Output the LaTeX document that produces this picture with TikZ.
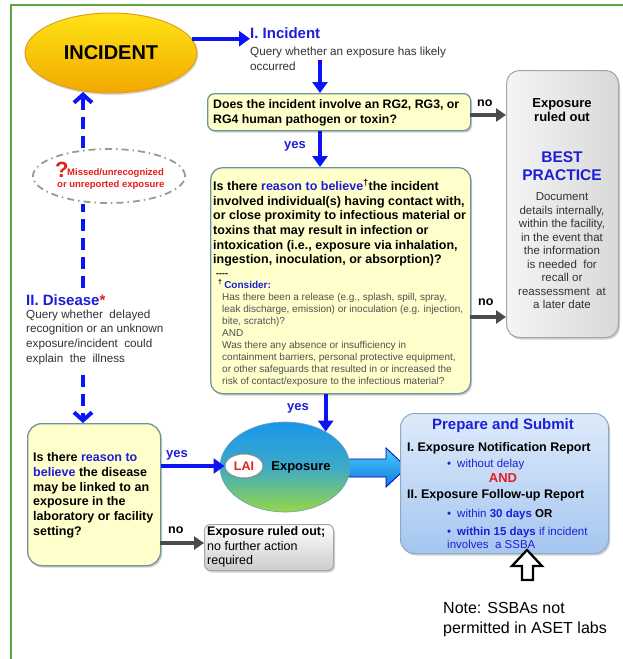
\documentclass[tikz,border=0pt]{standalone}
\usepackage{fontspec}
\setmainfont{Liberation Sans}
\usetikzlibrary{arrows.meta,shapes.geometric,shadows,calc}
\newcommand\fsz[2]{\fontsize{#1}{#2}\selectfont}

\definecolor{framegreen}{RGB}{96,165,60}
\definecolor{incTop}{RGB}{255,228,20}
\definecolor{incBot}{RGB}{242,168,0}
\definecolor{incBorder}{RGB}{220,160,30}
\definecolor{arrowblue}{RGB}{10,20,245}
\definecolor{txtblue}{RGB}{30,30,215}
\definecolor{boxyellow}{RGB}{255,255,204}
\definecolor{boxborder}{RGB}{110,150,150}
\definecolor{arrowgray}{RGB}{75,75,75}
\definecolor{grayBorder}{RGB}{165,165,165}
\definecolor{prepTop}{RGB}{222,234,250}
\definecolor{prepBot}{RGB}{165,198,240}
\definecolor{prepBorder}{RGB}{140,170,200}
\definecolor{alertred}{RGB}{230,30,30}
\definecolor{bodygray}{RGB}{50,50,50}
\definecolor{smallgray}{RGB}{80,80,80}
\definecolor{expTop}{RGB}{25,150,235}
\definecolor{expMid}{RGB}{60,170,200}
\definecolor{expBot}{RGB}{150,215,70}
\definecolor{blkTop}{RGB}{70,205,250}
\definecolor{blkBot}{RGB}{20,120,225}

\tikzset{
  flowarrow/.style={line width=4pt, draw=arrowblue, -{Triangle[length=11pt,width=15pt]}},
  noarrow/.style={line width=4pt, draw=arrowgray, -{Triangle[length=10pt,width=13pt]}},
  dashline/.style={line width=4.5pt, draw=arrowblue, dash pattern=on 12pt off 7pt},
  dasharrow/.style={dashline, -{Straight Barb[length=8pt,width=18pt,line width=4pt]}},
  boxshadow/.style={drop shadow={shadow xshift=1.5pt, shadow yshift=-2pt, opacity=0.3, fill=black!60}},
  ybox/.style={draw=boxborder, line width=1.3pt, fill=boxyellow, rectangle, inner sep=0pt, boxshadow},
  gbox/.style={draw=grayBorder, line width=1pt, rectangle, inner sep=0pt, left color=black!4, right color=black!15, boxshadow},
  txt/.style={inner sep=0pt, align=left},
  bigq/.style={txt, font=\bfseries\fsz{12.5}{14.7}},
  lbl/.style={inner sep=0pt, font=\bfseries\fsz{12.5}{14}},
}

\begin{document}
\begin{tikzpicture}[x=1pt,y=-1pt]
\useasboundingbox (0,0) rectangle (623,659);
\fill[white] (0,0) rectangle (623,659);

% outer frame
\draw[framegreen, line width=2.3pt] (11,659) -- (11,5) -- (623,5);

% ---------- incident branch ----------
\node[ellipse, minimum width=172pt, minimum height=80pt, top color=incTop, bottom color=incBot,
      draw=incBorder, line width=1pt, drop shadow={shadow xshift=1pt, shadow yshift=-2pt, opacity=0.3},
      font=\bfseries\fsz{20}{22}] (incident) at (111,53) {INCIDENT};

\node[inner sep=0pt, anchor=base west, font=\bfseries\fsz{15}{17}, text=txtblue] (inctitle) at (250,38.4) {I. Incident};
\node[txt, anchor=north west, font=\fsz{11.7}{15}, text=bodygray] (incq) at (250,46.7)
  {Query whether an exposure has likely\\occurred};
\coordinate (colx) at (320,60);

\node[ybox, rounded corners=7pt, minimum width=263pt, minimum height=37pt, anchor=north west] (box1) at (207,93) {};
\node[txt, anchor=north west, font=\bfseries\fsz{12.3}{14.5}] (box1t) at (213,99.4)
  {Does the incident involve an RG2, RG3, or\\RG4 human pathogen or toxin?};

\node[ybox, rounded corners=12pt, minimum width=260pt, minimum height=226pt, anchor=north west] (bigbox) at (210,167) {};
\node[bigq, anchor=north west] (bigt) at (213,179.4)
  {Is there \textcolor{txtblue}{reason to believe}\textsuperscript{†}the incident\\
   involved individual(s) having contact with,\\
   or close proximity to infectious material or\\
   toxins that may result in infection or\\
   intoxication (i.e., exposure via inhalation,\\
   ingestion, inoculation, or absorption)?};
\node[inner sep=0pt, anchor=base west, font=\bfseries\fsz{9}{10}] (dashes) at (216,276) {-{}-{}-{}-};
\node[inner sep=0pt, anchor=base west, font=\bfseries\fsz{10}{12}] (consider) at (218,288.6)
  {\textsuperscript{†}\,\textcolor{txtblue}{Consider:}};
\node[txt, anchor=north west, font=\fsz{10}{12}, text=smallgray] (considert) at (222,293.3)
  {Has there been a release (e.g., splash, spill, spray,\\
   leak discharge, emission) or inoculation (e.g. injection,\\
   bite, scratch)?\\
   AND\\
   Was there any absence or insufficiency in\\
   containment barriers, personal protective equipment,\\
   or other safeguards that resulted in or increased the\\
   risk of contact/exposure to the infectious material?};

% grey "ruled out" panel
\node[gbox, rounded corners=13pt, minimum width=112pt, minimum height=267pt, anchor=north west] (grey) at (506,70) {};
\node[txt, align=center, anchor=north, font=\bfseries\fsz{13}{14.5}] (greyt) at (562,98.2) {Exposure\\ruled out};
\node[txt, align=center, anchor=north, font=\bfseries\fsz{15.5}{18}, text=txtblue] (best) at (562,151.3) {BEST\\PRACTICE};
\node[txt, align=center, anchor=north, font=\fsz{11.5}{13.5}, text=bodygray] (bestt) at (562,192.7)
  {Document\\details internally,\\within the facility,\\in the event that\\the information\\is needed \ for\\recall or\\reassessment \ at\\a later date};

% connectors, incident branch
\draw[flowarrow] (incident.10.7) -- (incident.10.7 -| inctitle.west);
\draw[flowarrow] (colx) -- (colx |- box1.north);
\draw[flowarrow] (box1.south -| colx) -- (bigbox.north -| colx);
\node[inner sep=0pt, anchor=base west, font=\bfseries\fsz{13}{14}, text=txtblue] (yes1) at (284,148.4) {yes};

\coordinate (n1) at (470,115);
\draw[noarrow] (n1) -- (n1 -| grey.west);
\node[lbl, anchor=base west] (no1) at (477,106.3) {no};
\coordinate (n2) at (470,317);
\draw[noarrow] (n2) -- (n2 -| grey.west);
\node[lbl, anchor=base west] (no2) at (478,305.3) {no};

% ---------- exposure and reporting ----------
\path[draw=blue!70!black, line width=0.8pt, top color=blkTop, bottom color=blkBot]
  (348,459) -- (386,459) -- (386,448) -- (407,467.5) -- (386,487) -- (386,477) -- (348,477) -- cycle;

\node[ellipse, minimum width=130pt, minimum height=90pt, top color=expTop, bottom color=expBot, middle color=expMid,
      draw=expTop!60!black!60, line width=0.6pt] (expo) at (285,467) {};
\node[ellipse, minimum width=38pt, minimum height=24pt, fill=white, draw=black!45, line width=1pt,
      inner sep=0pt, font=\bfseries\fsz{12.5}{14}, text=alertred] (lai) at (244,466) {LAI};
\node[inner sep=0pt, anchor=base, font=\bfseries\fsz{13}{14}] (expot) at (301,470.5) {Exposure};

\draw[flowarrow] (bigbox.south -| expo.41.6) -- (expo.41.6);
\node[inner sep=0pt, anchor=base west, font=\bfseries\fsz{13}{14}, text=txtblue] (yes2) at (287,410.4) {yes};

\node[rectangle, rounded corners=14pt, minimum width=208pt, minimum height=140pt, anchor=north west,
      top color=prepTop, bottom color=prepBot, draw=prepBorder, line width=1pt, boxshadow] (prep) at (400,413) {};
\node[inner sep=0pt, anchor=base, font=\bfseries\fsz{15}{17}, text=txtblue] (prept) at (503,429.4) {Prepare and Submit};
\node[inner sep=0pt, anchor=base west, font=\bfseries\fsz{12.5}{14}] (rep1) at (407,451.2) {I. Exposure Notification Report};
\node[inner sep=0pt, anchor=base west, font=\fsz{11.5}{13}, text=txtblue] (b1) at (447,467) {•};
\node[inner sep=0pt, anchor=base west, font=\fsz{11.5}{13}, text=txtblue] (b1t) at (457,467) {without delay};
\node[inner sep=0pt, anchor=base, font=\bfseries\fsz{13}{14}, text=alertred] (and) at (503,482.3) {AND};
\node[inner sep=0pt, anchor=base west, font=\bfseries\fsz{12.5}{14}] (rep2) at (407,498.2) {II. Exposure Follow-up Report};
\node[inner sep=0pt, anchor=base west, font=\fsz{11.5}{13}, text=txtblue] (b2) at (447,517) {•};
\node[inner sep=0pt, anchor=base west, font=\fsz{11.5}{13}, text=txtblue] (b2t) at (457,517)
  {within \textbf{30 days} \textcolor{black}{\textbf{OR}}};
\node[inner sep=0pt, anchor=base west, font=\fsz{11.5}{13}, text=txtblue] (b3) at (447,535) {•};
\node[inner sep=0pt, anchor=base west, font=\fsz{11.5}{13}, text=txtblue] (b3t) at (457,535)
  {\textbf{within 15 days} if incident};
\node[inner sep=0pt, anchor=base west, font=\fsz{11.5}{13}, text=txtblue] (b3u) at (447,548) {involves \ a SSBA};

% outline arrow pointing at the SSBA line
\draw[black, line width=2.3pt, fill=white, line join=miter]
  (527,550) -- (542,566) -- (533,566) -- (533,580) -- (522,580) -- (522,566) -- (512,566) -- cycle;
\node[txt, anchor=north west, font=\fsz{16}{20}] (note) at (443,601.8) {Note: SSBAs not\\permitted in ASET labs};

% ---------- disease branch ----------
\node[ellipse, minimum width=152pt, minimum height=54pt, draw=black!40, line width=1.8pt,
      dash pattern=on 7pt off 4pt on 1.5pt off 4pt] (missed) at (109,176) {};
\node[inner sep=0pt, anchor=base west, font=\bfseries\fsz{22}{24}, text=alertred] (qmark) at (55,177) {?};
\node[inner sep=0pt, anchor=base west, font=\bfseries\fsz{9.5}{11}, text=alertred] (missedt) at (67,175.4) {Missed/unrecognized};
\node[inner sep=0pt, anchor=base west, font=\bfseries\fsz{9.5}{11}, text=alertred] (missedu) at (57,187.4) {or unreported exposure};

\node[inner sep=0pt, anchor=base west, font=\bfseries\fsz{15}{17}, text=txtblue] (disease) at (26,305.4)
  {II. Disease\textcolor{alertred}{*}};
\node[txt, anchor=north west, font=\fsz{11.7}{14.6}, text=bodygray] (diseaseq) at (26,309.7)
  {Query whether \ delayed\\recognition or an unknown\\exposure/incident \ could\\explain \ the \ illness};

\coordinate (dtop) at (83,288);
\coordinate (dbot) at (83,375);
\draw[dashline] (dtop) -- (dtop |- missed.south);
\draw[dasharrow] (dtop |- missed.north) -- (83,92);

\node[ybox, rounded corners=14pt, minimum width=133pt, minimum height=142pt, anchor=north west] (leftbox) at (27,423) {};
\node[bigq, anchor=north west] (leftt) at (33,452.4)
  {Is there \textcolor{txtblue}{reason to}\\\textcolor{txtblue}{believe} the disease\\may be linked to an\\exposure in the\\laboratory or facility\\setting?};
\draw[dasharrow] (dbot) -- (dbot |- leftbox.north);

\node[gbox, rounded corners=6pt, minimum width=129pt, minimum height=46pt, anchor=north west,
      top color=white, bottom color=black!20] (ruled2) at (204,524) {};
\node[txt, anchor=north west, font=\fsz{12.5}{14.5}] (ruled2t) at (207,526.4)
  {\textbf{Exposure ruled out;}\\no further action\\required};

\draw[flowarrow] (lai.west -| leftbox.east) -- (lai.west);
\node[inner sep=0pt, anchor=base west, font=\bfseries\fsz{13}{14}, text=txtblue] (yes3) at (166,457.4) {yes};
\coordinate (n3) at (160,543);
\draw[noarrow] (n3) -- (n3 -| ruled2.west);
\node[lbl, anchor=base west] (no3) at (168,533.3) {no};

\end{tikzpicture}
\end{document}
